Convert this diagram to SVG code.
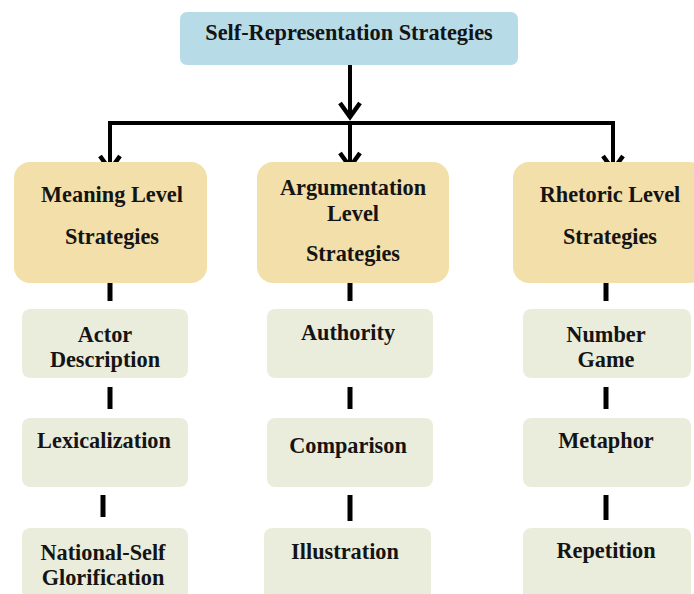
<svg xmlns="http://www.w3.org/2000/svg" width="694" height="594" viewBox="0 0 694 594">
<defs>
<style>
text{font-family:"Liberation Serif","Times New Roman",serif;font-weight:bold;font-size:22.3px;fill:#141414;text-anchor:middle}
.top{fill:#b7dce7}
.lvl{fill:#f3dfa9}
.sub{fill:#ebeddc}
.ln{stroke:#000;stroke-width:4;fill:none;stroke-linejoin:miter}
.chev{stroke:#000;stroke-width:4.5;fill:none;stroke-linejoin:miter}
.dash{stroke:#000;stroke-width:5;fill:none}
</style>
</defs>
<rect width="694" height="594" fill="#fff"/>
<g id="connectors">
<line class="ln" x1="350" y1="65" x2="350" y2="117"/>
<path class="ln" d="M110,169 V123 H613 V169"/>
<line class="ln" x1="350" y1="123" x2="350" y2="166"/>
<path class="chev" d="M340,103 L350,117 L360,103"/>
<path class="chev" d="M340,153 L350,167 L360,153"/>
<path class="chev" d="M100,156 L110,170 L120,156"/>
<path class="chev" d="M603,156 L613,170 L623,156"/>
<line class="dash" x1="110" y1="283" x2="110" y2="301"/>
<line class="dash" x1="110" y1="387" x2="110" y2="409"/>
<line class="dash" x1="103" y1="495" x2="103" y2="517"/>
<line class="dash" x1="350" y1="283" x2="350" y2="301"/>
<line class="dash" x1="350" y1="387" x2="350" y2="409"/>
<line class="dash" x1="350" y1="495" x2="350" y2="521"/>
<line class="dash" x1="606" y1="283" x2="606" y2="301"/>
<line class="dash" x1="606" y1="387" x2="606" y2="409"/>
<line class="dash" x1="606" y1="495" x2="606" y2="520"/>
</g>
<g id="root">
<rect class="top" x="180" y="12" width="338" height="53" rx="7"/>
<text x="349" y="40">Self-Representation Strategies</text>
</g>
<g id="meaning">
<rect class="lvl" x="14" y="162" width="193" height="121" rx="16"/>
<text x="112" y="202">Meaning Level</text>
<text x="112" y="244">Strategies</text>
</g>
<g id="argumentation">
<rect class="lvl" x="257" y="162" width="192" height="121" rx="16"/>
<text x="353" y="195">Argumentation</text>
<text x="353" y="221">Level</text>
<text x="353" y="261">Strategies</text>
</g>
<g id="rhetoric">
<rect class="lvl" x="513" y="162" width="193" height="121" rx="16"/>
<text x="610" y="202">Rhetoric Level</text>
<text x="610" y="244">Strategies</text>
</g>
<g id="actor">
<rect class="sub" x="22" y="309" width="166" height="69" rx="8"/>
<text x="105" y="342">Actor</text>
<text x="105" y="367">Description</text>
</g>
<g id="lexicalization">
<rect class="sub" x="22" y="418" width="166" height="69" rx="8"/>
<text x="104" y="448">Lexicalization</text>
</g>
<g id="national">
<rect class="sub" x="22" y="528" width="166" height="72" rx="8"/>
<text x="103" y="560">National-Self</text>
<text x="103" y="585">Glorification</text>
</g>
<g id="authority">
<rect class="sub" x="267" y="309" width="166" height="69" rx="8"/>
<text x="348" y="340">Authority</text>
</g>
<g id="comparison">
<rect class="sub" x="267" y="418" width="166" height="69" rx="8"/>
<text x="348" y="453">Comparison</text>
</g>
<g id="illustration">
<rect class="sub" x="264" y="528" width="167" height="72" rx="8"/>
<text x="345" y="559">Illustration</text>
</g>
<g id="number">
<rect class="sub" x="523" y="309" width="168" height="69" rx="8"/>
<text x="606" y="342">Number</text>
<text x="606" y="367">Game</text>
</g>
<g id="metaphor">
<rect class="sub" x="523" y="418" width="168" height="69" rx="8"/>
<text x="606" y="448">Metaphor</text>
</g>
<g id="repetition">
<rect class="sub" x="523" y="528" width="168" height="72" rx="8"/>
<text x="606" y="558">Repetition</text>
</g>
</svg>
